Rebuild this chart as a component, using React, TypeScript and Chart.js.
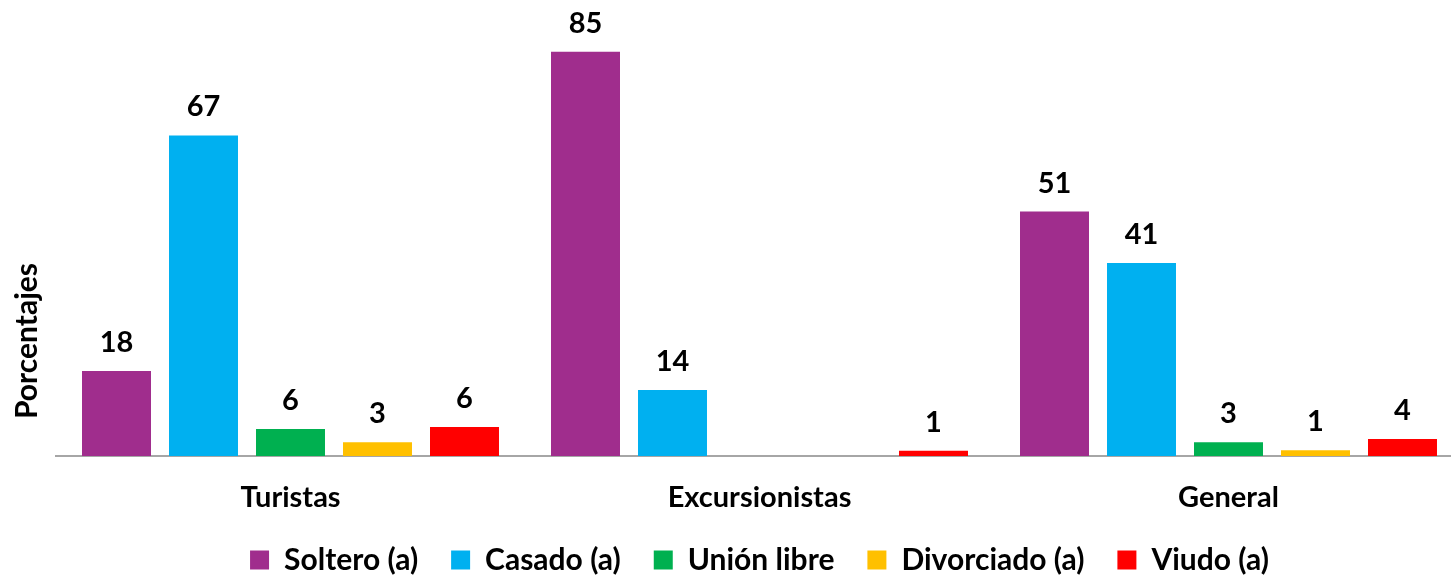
import React, { useEffect, useRef } from "react";
import { Chart, registerables } from "chart.js";

Chart.register(...registerables);

const categories = ["Turistas", "Excursionistas", "General"];
const seriesNames = ["Soltero (a)", "Casado (a)", "Unión libre", "Divorciado (a)", "Viudo (a)"];
const soltero = [17.9, 85.0, 51.4];
const casado = [67.4, 13.9, 40.6];
const unionLibre = [5.7, 0, 2.9];
const divorciado = [2.9, 0, 1.2];
const viudo = [6.1, 1.1, 3.6];
const seriesColors = ["#A02D8D", "#00B0F0", "#00B050", "#FFC000", "#FF0000"];
const yAxisTitle = "Porcentajes";

const FONT = "Lato, 'Open Sans', sans-serif";

const valueLabels = {
  id: "valueLabels",
  afterDatasetsDraw(chart: any) {
    const ctx = chart.ctx;
    ctx.save();
    ctx.font = `bold 29px ${FONT}`;
    ctx.fillStyle = "#000000";
    ctx.textAlign = "center";
    ctx.textBaseline = "alphabetic";
    chart.data.datasets.forEach((ds: any, di: number) => {
      const meta = chart.getDatasetMeta(di);
      meta.data.forEach((el: any, i: number) => {
        const v = ds.data[i];
        if (!v) return;
        ctx.fillText(String(Math.round(v)), el.x, el.y - 19);
      });
    });
    ctx.restore();
  },
};

const yTitle = {
  id: "yTitle",
  afterDraw(chart: any) {
    const ctx = chart.ctx;
    ctx.save();
    ctx.font = `bold 30px ${FONT}`;
    ctx.fillStyle = "#000000";
    ctx.textAlign = "center";
    ctx.textBaseline = "middle";
    ctx.translate(chart.chartArea.left - 29, chart.chartArea.bottom - 115);
    ctx.rotate(-Math.PI / 2);
    ctx.fillText(yAxisTitle, 0, 0);
    ctx.restore();
  },
};

export default function App() {
  const ref = useRef<HTMLCanvasElement>(null);
  useEffect(() => {
    document.body.style.margin = "0";
    document.body.style.overflow = "hidden";
    const values = [soltero, casado, unionLibre, divorciado, viudo];
    const chart = new Chart(ref.current!, {
      type: "bar",
      data: {
        labels: categories,
        datasets: seriesNames.map((name, i) => ({
          label: name,
          data: values[i],
          backgroundColor: seriesColors[i],
          borderWidth: 0,
          categoryPercentage: 0.9275,
          barPercentage: 0.793,
        })),
      },
      options: {
        responsive: false,
        animation: false,
        layout: { padding: { left: 56, top: 28, right: 0, bottom: 0 } },
        plugins: {
          legend: {
            position: "bottom",
            labels: {
              boxWidth: 19,
              boxHeight: 19,
              padding: 33,
              color: "#000000",
              font: { family: FONT, size: 30, weight: "bold" },
            },
          },
          tooltip: { enabled: false },
        },
        scales: {
          x: {
            grid: { display: false, drawTicks: false },
            border: { display: true, color: "#A6A6A6", width: 2 },
            ticks: {
              padding: 26,
              color: "#000000",
              font: { family: FONT, size: 29, weight: "bold", lineHeight: 1.05 },
            },
            afterFit: (scale: any) => {
              scale.height = 56;
            },
          },
          y: {
            display: false,
            min: 0,
            max: 90,
          },
        },
      },
      plugins: [valueLabels, yTitle],
    });
    return () => chart.destroy();
  }, []);
  return (
    <div style={{ width: 1463, height: 585 }}>
      <canvas ref={ref} width={1463} height={585} style={{ display: "block" }} />
    </div>
  );
}
